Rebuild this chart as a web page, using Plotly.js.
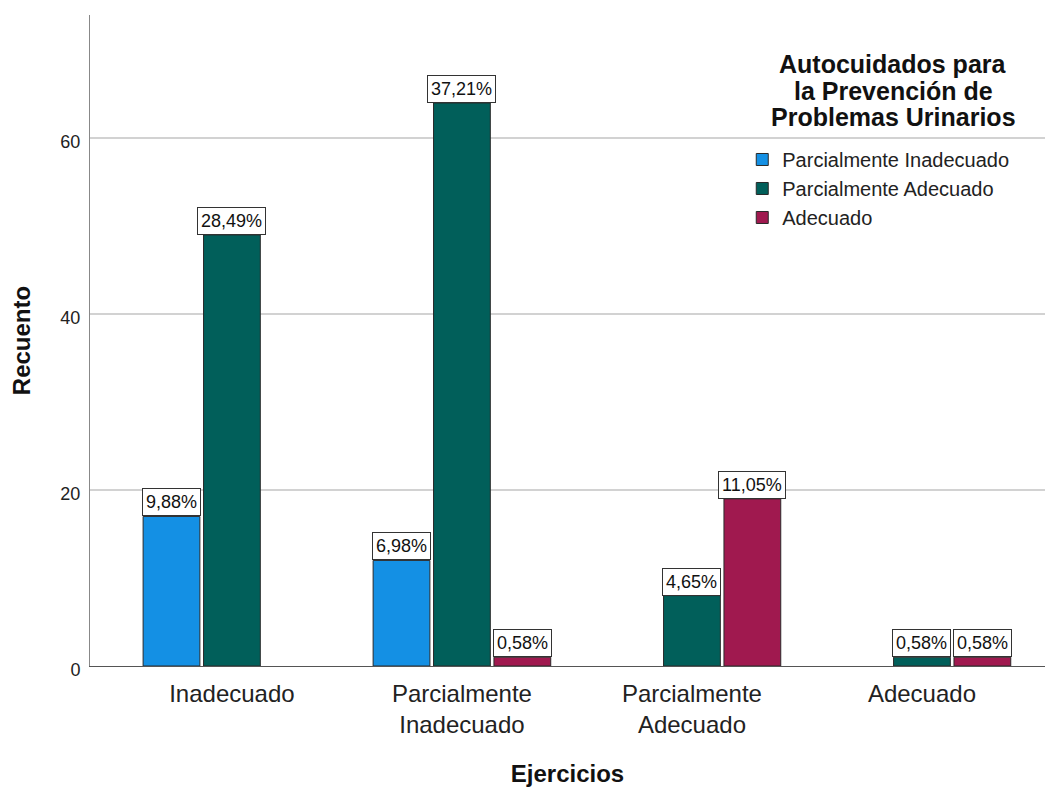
<!DOCTYPE html>
<html>
<head>
<meta charset="utf-8">
<script src="https://cdn.plot.ly/plotly-3.0.1.min.js"></script>
<style>html,body{margin:0;padding:0;background:#fff;}#chart{width:1050px;height:787px;}</style>
</head>
<body>
<div id="chart"></div>
<script>
const categories = ["Inadecuado", "Parcialmente<br>Inadecuado", "Parcialmente<br>Adecuado", "Adecuado"];
const seriesNames = ["Parcialmente Inadecuado", "Parcialmente Adecuado", "Adecuado"];
const countsParcInadecuado = [17, 12, null, null];
const countsParcAdecuado = [49, 64, 8, 1];
const countsAdecuado = [null, 1, 19, 1];
const pctParcInadecuado = ["9,88%", "6,98%", null, null];
const pctParcAdecuado = ["28,49%", "37,21%", "4,65%", "0,58%"];
const pctAdecuado = [null, "0,58%", "11,05%", "0,58%"];
const colors = ["#1490e4", "#015f5a", "#a0194f"];
const legendTitleLines = ["Autocuidados para", "la Prevención de", "Problemas Urinarios"];
const yTickVals = [0, 20, 40, 60];

const FONT = "Liberation Sans, Arial, sans-serif";
const counts = [countsParcInadecuado, countsParcAdecuado, countsAdecuado];
const pcts = [pctParcInadecuado, pctParcAdecuado, pctAdecuado];
const bargap = 0.212;

const traces = counts.map((vals, i) => ({
  type: "bar",
  name: seriesNames[i],
  x: categories,
  y: vals,
  marker: {color: colors[i], line: {color: "#2a2a2a", width: 1}},
  hoverinfo: "skip"
}));

const annotations = [];
const slot = (1 - bargap) / counts.length;
counts.forEach((vals, i) => {
  vals.forEach((v, j) => {
    if (v === null) return;
    annotations.push({
      x: j + (i - (counts.length - 1) / 2) * slot,
      y: v,
      xref: "x", yref: "y",
      text: pcts[i][j],
      showarrow: false,
      yanchor: "bottom",
      font: {family: FONT, size: 18, color: "#111"},
      bgcolor: "#ffffff",
      bordercolor: "#333333",
      borderwidth: 1,
      borderpad: 3
    });
  });
});
legendTitleLines.forEach((line, k) => {
  annotations.push({
    xref: "paper", yref: "paper",
    x: 0.841, y: 0.924,
    yshift: -26.5 * k,
    xanchor: "center", yanchor: "middle",
    text: line,
    showarrow: false,
    font: {family: FONT, size: 25, color: "#111", weight: "bold"}
  });
});

const layout = {
  width: 1050, height: 787,
  margin: {l: 90, r: 5, t: 15, b: 121},
  paper_bgcolor: "#fff", plot_bgcolor: "#fff",
  barmode: "group",
  bargap: bargap,
  bargroupgap: 0.06,
  font: {family: FONT, color: "#222"},
  showlegend: true,
  legend: {
    x: 0.683, y: 0.808, xanchor: "left", yanchor: "top",
    bgcolor: "rgba(0,0,0,0)",
    font: {family: FONT, size: 20, color: "#222"},
    tracegroupgap: 0,
    itemwidth: 30
  },
  xaxis: {
    type: "category",
    range: [-0.617, 3.535],
    showline: true, linecolor: "#555", linewidth: 1,
    showgrid: false, zeroline: false,
    ticks: "",
    ticklabelstandoff: 6,
    tickfont: {family: FONT, size: 24, color: "#222"},
    title: {text: "Ejercicios", font: {family: FONT, size: 24, color: "#111", weight: "bold"}, standoff: 28}
  },
  yaxis: {
    range: [0, 74],
    tickvals: yTickVals,
    showline: true, linecolor: "#888", linewidth: 1,
    showgrid: true, gridcolor: "#d2d2d2", gridwidth: 1.5,
    zeroline: false,
    ticks: "",
    ticklabelstandoff: 5,
    ticklabelshift: 4,
    tickfont: {family: FONT, size: 18, color: "#222"},
    title: {text: "Recuento", font: {family: FONT, size: 24, color: "#111", weight: "bold"}, standoff: 22}
  },
  annotations: annotations
};

Plotly.newPlot("chart", traces, layout, {displayModeBar: false, staticPlot: true});
</script>
</body>
</html>
